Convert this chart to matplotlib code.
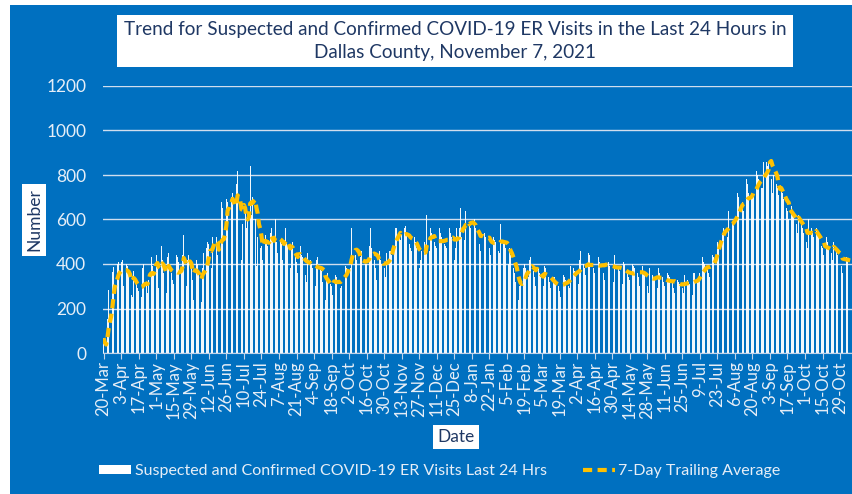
import numpy as np
import pandas as pd
import matplotlib
matplotlib.use("Agg")
import matplotlib.pyplot as plt
from matplotlib.patches import Rectangle, Patch
from matplotlib.lines import Line2D

# daily ER visits, 20-Mar-2020 .. 6-Nov-2021 (one row = two weeks)
visits = [
    67, 27, 20, 153, 283, 283, 319, 364, 387, 300, 280, 400, 410, 390,
    410, 420, 300, 280, 400, 390, 360, 330, 260, 250, 370, 360, 320, 290,
    280, 210, 250, 380, 400, 360, 300, 270, 330, 420, 430, 390, 350, 420,
    440, 380, 290, 390, 480, 420, 360, 330, 270, 430, 450, 410, 360, 330,
    310, 250, 440, 430, 410, 380, 360, 440, 530, 350, 300, 420, 440, 400,
    380, 330, 240, 390, 420, 400, 350, 290, 230, 380, 450, 480, 470, 500,
    490, 440, 380, 520, 600, 580, 520, 440, 210, 480, 680, 650, 600, 700,
    690, 680, 560, 800, 700, 720, 600, 560, 760, 820, 740, 620, 420, 580,
    720, 660, 560, 640, 700, 840, 620, 700, 720, 600, 390, 520, 510, 470,
    480, 420, 600, 530, 500, 480, 460, 540, 560, 520, 470, 600, 500, 450,
    530, 510, 490, 420, 530, 560, 500, 480, 420, 380, 480, 500, 460, 430,
    410, 360, 470, 480, 440, 430, 400, 350, 320, 450, 460, 420, 400, 380,
    350, 300, 420, 430, 410, 390, 370, 320, 270, 240, 350, 360, 330, 310,
    300, 260, 340, 350, 340, 330, 320, 290, 300, 380, 400, 390, 380, 410,
    420, 380, 560, 550, 480, 440, 420, 390, 330, 430, 460, 440, 420, 400,
    400, 350, 480, 560, 470, 450, 420, 380, 330, 440, 460, 420, 400, 380,
    380, 340, 450, 480, 460, 460, 440, 600, 470, 560, 560, 540, 540, 510,
    530, 490, 560, 570, 540, 520, 490, 470, 460, 540, 520, 500, 470, 400,
    380, 420, 460, 520, 500, 480, 620, 480, 460, 560, 540, 520, 500, 480,
    470, 450, 560, 540, 520, 500, 490, 480, 470, 560, 560, 540, 520, 500,
    420, 470, 560, 600, 560, 650, 520, 550, 510, 640, 600, 650, 580, 560,
    560, 520, 600, 560, 540, 510, 490, 460, 520, 600, 540, 520, 500, 480,
    470, 440, 540, 520, 510, 500, 480, 460, 450, 580, 530, 500, 490, 470,
    450, 400, 470, 440, 420, 380, 360, 320, 280, 240, 300, 320, 350, 380,
    400, 380, 360, 340, 420, 430, 400, 370, 340, 300, 390, 380, 360, 340,
    330, 300, 390, 380, 360, 340, 320, 290, 260, 340, 340, 320, 310, 300,
    280, 250, 340, 350, 340, 330, 320, 300, 290, 390, 400, 380, 370, 360,
    340, 310, 420, 460, 420, 400, 380, 350, 330, 450, 440, 420, 400, 380,
    360, 330, 440, 430, 410, 400, 390, 360, 330, 460, 430, 410, 390, 370,
    350, 320, 440, 420, 400, 390, 370, 340, 310, 410, 400, 380, 360, 340,
    330, 300, 400, 390, 380, 370, 360, 340, 300, 400, 390, 370, 350, 330,
    300, 270, 380, 370, 350, 340, 330, 320, 290, 380, 360, 350, 340, 320,
    300, 260, 360, 350, 340, 330, 320, 290, 270, 340, 330, 320, 310, 300,
    290, 270, 350, 340, 330, 320, 310, 300, 260, 360, 360, 350, 330, 340,
    360, 330, 430, 410, 400, 390, 380, 360, 340, 450, 440, 430, 460, 470,
    500, 480, 600, 560, 540, 560, 560, 540, 520, 640, 620, 600, 580, 600,
    600, 580, 720, 700, 680, 690, 680, 640, 600, 780, 760, 720, 700, 700,
    700, 700, 800, 820, 800, 780, 770, 740, 740, 860, 880, 860, 840, 860,
    960, 780, 720, 800, 780, 760, 740, 710, 650, 750, 720, 690, 680, 650,
    640, 600, 540, 660, 640, 620, 600, 580, 540, 620, 600, 580, 560, 540,
    530, 500, 470, 600, 580, 560, 540, 520, 480, 560, 540, 520, 500, 480,
    470, 440, 410, 520, 500, 480, 470, 450, 420, 500, 480, 460, 440, 420,
    420, 390, 360, 470, 450, 430, 420, 400, 380,
]
start_date = "2020-03-20"
title = ("Trend for Suspected and Confirmed COVID-19 ER Visits in the Last 24 Hours in\n"
         "Dallas County, November 7, 2021")
bar_label = "Suspected and Confirmed COVID-19 ER Visits Last 24 Hrs"
line_label = "7-Day Trailing Average"

BLUE = "#0070C0"
YELLOW = "#FFC000"
NAVY = "#1F3864"
LIGHT = "#E6EEF7"
FONT = ["Lato", "DejaVu Sans"]

df = pd.DataFrame({"visits": visits},
                  index=pd.date_range(start_date, periods=len(visits), freq="D"))
df["avg"] = df["visits"].rolling(7, min_periods=1).mean()
pos = np.arange(len(df))

plt.rcParams["font.family"] = FONT
fig = plt.figure(figsize=(8.52, 4.94), dpi=100, facecolor="white")
fig.patches.append(Rectangle((10 / 852, 0), 1, 1 - 5 / 494, transform=fig.transFigure,
                             facecolor=BLUE, edgecolor="none", zorder=-10))

ax = fig.add_axes([103 / 852, 141 / 494, 1 - 103 / 852, 267 / 494])
ax.set_facecolor("none")
ax.bar(pos, df["visits"], width=0.55, color="white", alpha=0.95, linewidth=0, zorder=2)
ax.plot(pos, df["avg"], color=YELLOW, lw=3, ls=(0, (2.2, 1.3)), zorder=3)

ax.set_ylim(0, 1200)
ax.set_yticks(range(0, 1201, 200))
ax.set_xlim(-0.5, len(df) + 0.5)
ticks = pos[::14]
ax.set_xticks(ticks)
ax.set_xticklabels([f"{d.day}-{d.strftime('%b')}" for d in df.index[ticks]],
                   rotation=90, color=LIGHT, fontsize=12)
ax.tick_params(axis="y", length=0, colors=LIGHT, labelsize=12.5, pad=12)
ax.tick_params(axis="x", length=4, color="#BFD3EA", pad=2)
ax.grid(axis="y", color="#D0DEEE", lw=1, zorder=1)
for s in ["top", "right", "left"]:
    ax.spines[s].set_visible(False)
ax.spines["bottom"].set_color("#BFD3EA")

box = dict(boxstyle="square,pad=0.25", facecolor="white", edgecolor="none")
fig.text(455 / 852, 1 - 41 / 494, title, ha="center", va="center", color=NAVY,
         fontsize=13.6, linespacing=1.4,
         bbox=dict(boxstyle="square,pad=0.35", facecolor="white", edgecolor="none"))
fig.text(34 / 852, 1 - 220 / 494, "Number", rotation=90, ha="center", va="center",
         color=NAVY, fontsize=12.5, bbox=box)
fig.text(456 / 852, 1 - 437 / 494, "Date", ha="center", va="center",
         color=NAVY, fontsize=12.5, bbox=box)

handles = [Patch(facecolor="white", edgecolor="none"),
           Line2D([0], [0], color=YELLOW, lw=3, ls=(0, (2.2, 1.3)))]
leg = fig.legend(handles, [bar_label, line_label], loc="center",
                 bbox_to_anchor=(440 / 852, 1 - 471 / 494), ncol=2, frameon=False,
                 fontsize=11.5, handlelength=2.0, handleheight=0.5,
                 handletextpad=0.2, columnspacing=2.3)
for t in leg.get_texts():
    t.set_color(LIGHT)

fig.savefig("out.png", dpi=100, facecolor=fig.get_facecolor())
